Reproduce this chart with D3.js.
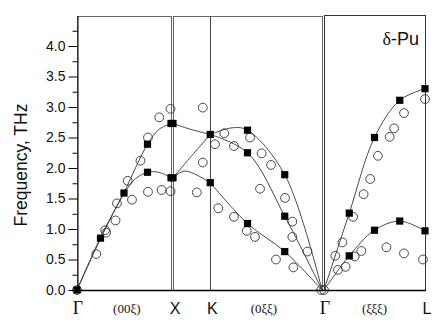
<!DOCTYPE html>
<html>
<head>
<meta charset="utf-8">
<script src="https://cdnjs.cloudflare.com/ajax/libs/d3/7.8.5/d3.min.js"></script>
<style>body{margin:0;background:#fff}</style>
</head>
<body>
<div id="chart"></div>
<script>
// measured (open circles) and calculated (squares) phonon frequencies, THz
// panel A: Gamma -> X (00xi), xi 0..1
var circlesA = [[0,0],[0.205,0.59],[0.30,0.98],[0.31,0.94],[0.41,1.14],[0.425,1.42],[0.54,1.79],[0.585,1.48],
  [0.675,2.12],[0.755,2.50],[0.755,1.61],[0.875,2.83],[0.90,1.64],[0.995,2.97],[0.995,1.62]]
var squaresA = [[0,0],[0.25,0.85],[0.5,1.59],[0.75,2.39],[0.75,1.93],[1,2.73],[1,1.84]]
var curvesA = [
  [[0,0],[0.25,0.86],[0.5,1.60],[0.75,2.39],[0.87,2.63],[1,2.73]],
  [[0,0],[0.25,0.84],[0.5,1.58],[0.62,1.82],[0.75,1.93],[0.87,1.93],[1,1.84]]
]
// panel B: X -> K -> Gamma (0xixi), xi 1..0
var circlesB = [[0.80,2.99],[0.718,2.39],[0.656,2.57],[0.591,2.36],[0.483,2.50],[0.405,2.24],[0.342,2.05],
  [0.80,2.09],[0.84,1.60],[0.416,1.66],[0.248,1.51],[0.696,1.34],[0.591,1.20],[0.505,0.97],[0.45,0.87],
  [0.309,0.50],[0.192,0.37],[0.199,1.12],[0.199,0.87],[0.098,0.63],[0.005,0]]
var squaresB = [[1,2.73],[1,1.84],[0.75,2.55],[0.75,1.76],[0.5,2.62],[0.5,2.25],[0.25,1.89],[0.5,1.09],[0.25,1.21],[0.25,0.63]]
var curvesB = [
  [[1,2.73],[0.89,2.64],[0.75,2.55]],
  [[1,1.84],[0.91,2.10],[0.75,2.55]],
  [[1,1.84],[0.92,1.95],[0.75,1.76]],
  [[0.75,2.55],[0.6,2.66],[0.5,2.62],[0.25,1.89],[0,0]],
  [[0.75,2.55],[0.5,2.25],[0.25,1.21],[0,0]],
  [[0.75,1.76],[0.5,1.09],[0.25,0.63],[0,0]]
]
// panel C: Gamma -> L (xixixi), xi 0..0.5
var circlesC = [[0,0],[0.5,3.13],[0.396,2.90],[0.347,2.65],[0.325,2.51],[0.267,2.20],[0.229,1.82],[0.196,1.57],
  [0.144,1.20],[0.091,0.78],[0.056,0.56],[0.069,0.33],[0.107,0.38],[0.152,0.55],[0.185,0.64],[0.309,0.70],
  [0.396,0.60],[0.49,0.50]]
var squaresC = [[0.125,1.26],[0.25,2.50],[0.375,3.11],[0.5,3.30],[0.125,0.56],[0.25,0.98],[0.375,1.13],[0.5,0.97]]
var curvesC = [
  [[0,0],[0.125,1.26],[0.25,2.50],[0.375,3.11],[0.5,3.30]],
  [[0,0],[0.125,0.56],[0.25,0.98],[0.375,1.13],[0.5,0.97]]
]
var yTicks = [0,0.5,1,1.5,2,2.5,3,3.5,4]
var yMinor = [0.25,0.75,1.25,1.75,2.25,2.75,3.25,3.75,4.25]
var pointLabels = [["Γ","A",0],["X","B",1],["K","B",0.75],["Γ","C",0],["L","C",0.5]]
var dirLabels = [["(00ξ)","A",0.53],["(0ξξ)","B",0.39],["(ξξξ)","C",0.25]]

var width = 442, height = 332
var svg = d3.select("#chart").append("svg")
  .attr("width", width).attr("height", height)
  .style("font-family", "'Liberation Sans', Arial, sans-serif")

var y = d3.scaleLinear().domain([0,4.5]).range([290,15.5])
var xs = {
  A: d3.scaleLinear().domain([0,1]).range([77,171]),
  B: d3.scaleLinear().domain([1,0]).range([173,322]),
  C: d3.scaleLinear().domain([0,0.5]).range([324,425])
}

// frames
function frame(x0, x1, top, col){
  svg.append("rect")
    .attr("x", x0+0.5).attr("y", top+0.5)
    .attr("width", x1-x0).attr("height", y(0)-top)
    .attr("fill", "none").attr("stroke", col).attr("stroke-width", 1)
}
frame(77,171,16,"#666")
frame(173,322,16,"#666")
frame(324,425,15,"#333")
svg.append("line")
  .attr("x1", Math.round(xs.B(0.75))+0.5).attr("x2", Math.round(xs.B(0.75))+0.5)
  .attr("y1", 16).attr("y2", y(0))
  .attr("stroke", "#444")

var line = function(sx){
  return d3.line().x(function(d){return sx(d[0])}).y(function(d){return y(d[1])})
    .curve(d3.curveCatmullRom.alpha(0.5))
}
function drawPanel(key, curves, circles, squares){
  var sx = xs[key]
  var g = svg.append("g").attr("class", "panel"+key)
  g.selectAll("path.c").data(curves).enter().append("path")
    .attr("class","c")
    .attr("d", line(sx))
    .attr("fill","none").attr("stroke","#333").attr("stroke-width",0.9)
  g.selectAll("circle").data(circles).enter().append("circle")
    .attr("cx", function(d){return sx(d[0])})
    .attr("cy", function(d){return y(d[1])})
    .attr("r", 4.4)
    .attr("fill","none").attr("stroke","#333").attr("stroke-width",0.9)
  g.selectAll("rect").data(squares).enter().append("rect")
    .attr("x", function(d){return sx(d[0])-3.6})
    .attr("y", function(d){return y(d[1])-3.6})
    .attr("width", 7.2).attr("height", 7.2)
    .attr("fill","#000")
}
drawPanel("A", curvesA, circlesA, squaresA)
drawPanel("B", curvesB, circlesB, squaresB)
drawPanel("C", curvesC, circlesC, squaresC)

// y axis
var yAxis = svg.append("g").attr("transform","translate(77.5,0)")
  .call(d3.axisLeft(y).tickValues(yTicks).tickSize(9).tickSizeOuter(0).tickPadding(3).tickFormat(d3.format(".1f")))
yAxis.select(".domain").attr("stroke","#000")
yAxis.selectAll(".tick text").style("font-size","14px").attr("fill","#111")
svg.append("g").attr("transform","translate(77.5,0)")
  .call(d3.axisLeft(y).tickValues(yMinor).tickSize(5).tickFormat(""))
  .select(".domain").remove()

// bottom line
svg.append("line").attr("x1",77).attr("x2",426).attr("y1",y(0)+0.5).attr("y2",y(0)+0.5)
  .attr("stroke","#000").attr("stroke-width",1.5)

svg.append("text")
  .attr("transform","translate(27,165) rotate(-90)")
  .attr("text-anchor","middle")
  .style("font-size","17.5px").attr("fill","#111")
  .text("Frequency, THz")

svg.selectAll("text.pl").data(pointLabels).enter().append("text")
  .attr("class","pl")
  .attr("x", function(d){return xs[d[1]](d[2]) + (d[0]=="Γ" ? 1 : 2)})
  .attr("y", 314)
  .attr("text-anchor","middle")
  .style("font-family", function(d){return d[0]=="Γ" ? "'Liberation Serif', serif" : null})
  .style("font-size", function(d){return d[0]=="Γ" ? "18px" : "16px"})
  .attr("fill","#111")
  .text(function(d){return d[0]})
svg.selectAll("text.dl").data(dirLabels).enter().append("text")
  .attr("class","dl")
  .attr("x", function(d){return xs[d[1]](d[2])})
  .attr("y", 313)
  .attr("text-anchor","middle")
  .style("font-family","'Liberation Serif', serif")
  .style("font-size","13px").attr("fill","#111")
  .text(function(d){return d[0]})

var title = svg.append("text").attr("x",419).attr("y",45).attr("text-anchor","end")
  .style("font-size","18px").attr("fill","#111")
title.append("tspan").style("font-family","'Liberation Serif', serif").text("δ")
title.append("tspan").text("-Pu")
</script>
</body>
</html>
